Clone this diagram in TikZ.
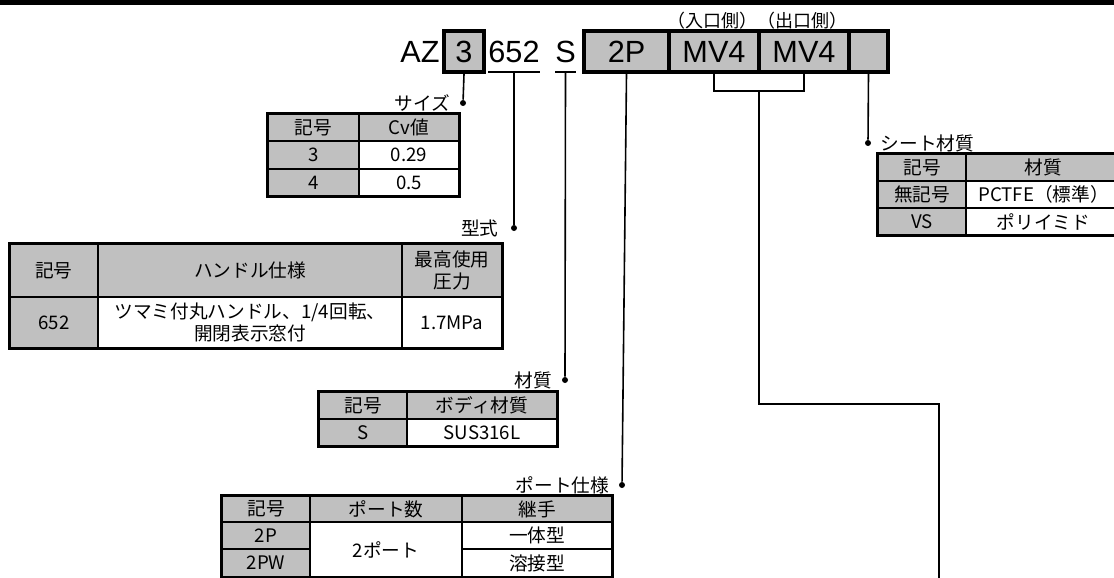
\documentclass[tikz,border=0pt]{standalone}
\usepackage{fontspec}
\setmainfont{Noto Sans CJK JP}
\newfontfamily\codefont{Liberation Sans}
\usepackage{xcolor}
\usepackage{tikz}
\usetikzlibrary{positioning,calc}
\definecolor{cellgray}{HTML}{C0C0C0}

\begin{document}
\begin{tikzpicture}[
	x=0.75pt, y=-0.75pt,
	every node/.style={font=\fontsize{14}{16}\selectfont, inner sep=0pt},
	box/.style args={#1/#2/#3/#4}{at={({(#1+#3)/2},{(#2+#4)/2})},
		minimum width={(#3-#1)*0.75pt}, minimum height={(#4-#2)*0.75pt}},
	cell/.style={draw=black, line width=1.3pt, rectangle, align=center},
	hd/.style={cell, fill=cellgray},
	val/.style={cell, fill=white},
	frame/.style={draw=black, line width=2.2pt},
	code/.style={font=\codefont\fontsize{23}{26}\selectfont, inner sep=0pt},
	codebox/.style={code, rectangle, draw=black, line width=3pt, fill=cellgray},
	wire/.style={draw=black, line width=1.2pt},
	dot/.style={circle, fill=black, inner sep=0pt, minimum size=4.5pt}
	]
	\useasboundingbox (0,0) rectangle (1114,578);
	\clip (0,0) rectangle (1114,578);
	\fill[black] (0,0) rectangle (1114,5);
	
	% 型番
	\node[font=\fontsize{13.5}{16}\selectfont] (side) at (757,21) {（入口側）（出口側）};
	\node[code] (az) at (420,52) {AZ};
	\node[codebox, box=444/31/484/72] (csize) {3};
	\node[code, box=490/31/538/72] (ctype) {652};
	\node[code, box=556/31/575/72] (cmat) {S};
	\draw[wire] (ctype.south west) -- (ctype.south east);
	\draw[wire] (cmat.south west) -- (cmat.south east);
	\node[codebox, box=584/31/669/72] (cport) {2P};
	\node[codebox, box=669/31/759/72] (cin) {MV4};
	\node[codebox, box=759/31/849/72] (cout) {MV4};
	\node[codebox, box=849/31/888/72] (cseat) {};
	
	% 引出線
	\node[dot] (dsize) at (463,103) {};
	\node[left=7pt of dsize] (lsize) {サイズ};
	\node[dot] (dtype) at (514,228) {};
	\node[left=9pt of dtype] (ltype) {型式};
	\node[dot] (dmat) at (565,380) {};
	\node[left=7pt of dmat] (lmat) {材質};
	\node[dot] (dport) at (622,485) {};
	\node[left=7pt of dport] (lport) {ポート仕様};
	\node[dot] (dseat) at (868,143) {};
	\node[right=7pt of dseat] (lseat) {シート材質};
	\draw[wire] (csize.south) -- (dsize);
	\draw[wire] (ctype.south) -- (dtype);
	\draw[wire] (cmat.south) -- (dmat);
	\draw[wire] (cport.south) -- (dport);
	\draw[wire] (cseat.south) -- (dseat);
	\draw[wire] (cin.south) -- ++(0,17) -| (cout.south);
	\coordinate (mid) at ($(cin.south)!0.5!(cout.south)+(0,17)$);
	\coordinate (valve) at (939,582);
	\draw[wire] (mid) -- ++(0,313) -| (valve);
	
	% サイズ
	\node[hd, box=268/114/359/141] (sz11) {記号};
	\node[hd, box=359/114/459/141] (sz12) {Cv値};
	\node[hd, box=268/141/359/169] (sz21) {3};
	\node[val, box=359/141/459/169] (sz22) {0.29};
	\node[hd, box=268/169/359/196] (sz31) {4};
	\node[val, box=359/169/459/196] (sz32) {0.5};
	\draw[frame] (sz11.north west) rectangle (sz32.south east);
	
	% 型式
	\node[hd, box=10/244/98/297] (ty11) {記号};
	\node[hd, box=98/244/402/297] (ty12) {ハンドル仕様};
	\node[hd, box=402/244/502/297] (ty13) {最高使用\\圧力};
	\node[hd, box=10/297/98/348] (ty21) {652};
	\node[val, box=98/297/402/348] (ty22) {ツマミ付丸ハンドル、1/4回転、\\開閉表示窓付};
	\node[val, box=402/297/502/348] (ty23) {1.7MPa};
	\draw[frame] (ty11.north west) rectangle (ty23.south east);
	
	% 材質
	\node[hd, box=319/392/407/419] (mt11) {記号};
	\node[hd, box=407/392/557/419] (mt12) {ボディ材質};
	\node[hd, box=319/419/407/446] (mt21) {S};
	\node[val, box=407/419/557/446] (mt22) {SUS316L};
	\draw[frame] (mt11.north west) rectangle (mt22.south east);
	
	% ポート仕様
	\node[hd, box=222/496/310/522] (pt11) {記号};
	\node[hd, box=310/496/462/522] (pt12) {ポート数};
	\node[hd, box=462/496/612/522] (pt13) {継手};
	\node[hd, box=222/522/310/549] (pt21) {2P};
	\node[val, box=310/522/462/577] (pt22) {2ポート};
	\node[val, box=462/522/612/549] (pt23) {一体型};
	\node[hd, box=222/549/310/577] (pt31) {2PW};
	\node[val, box=462/549/612/577] (pt33) {溶接型};
	\draw[frame] (pt11.north west) rectangle (pt33.south east);
	
	% シート材質
	\node[hd, box=878/154/966/181] (st11) {記号};
	\node[hd, box=966/154/1121/181] (st12) {材質};
	\node[hd, box=878/181/966/208] (st21) {無記号};
	\node[val, box=966/181/1121/208] (st22) {PCTFE（標準）};
	\node[hd, box=878/208/966/235] (st31) {VS};
	\node[val, box=966/208/1121/235] (st32) {ポリイミド};
	\draw[frame] (st11.north west) rectangle (st32.south east);
\end{tikzpicture}
\end{document}
